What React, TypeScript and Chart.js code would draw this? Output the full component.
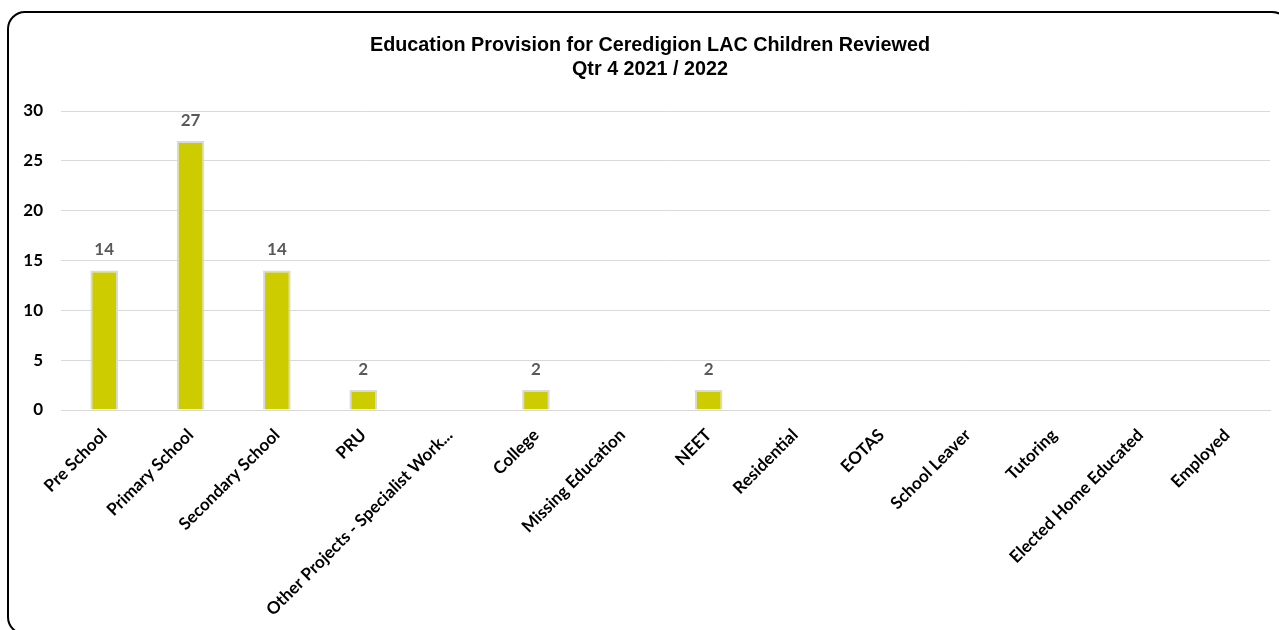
import React, { useEffect, useRef } from "react";
import { Chart, registerables } from "chart.js";

Chart.register(...registerables);

const titleLines: string[] = [
  "Education Provision for Ceredigion LAC Children Reviewed",
  "Qtr 4 2021 / 2022",
];

const categories: string[] = [
  "Pre School",
  "Primary School",
  "Secondary School",
  "PRU",
  "Other Projects - Specialist Work...",
  "College",
  "Missing Education",
  "NEET",
  "Residential",
  "EOTAS",
  "School Leaver",
  "Tutoring",
  "Elected Home Educated",
  "Employed",
];

const values: number[] = [14, 27, 14, 2, 0, 2, 0, 2, 0, 0, 0, 0, 0, 0];

const yMin = 0;
const yMax = 30;
const yStep = 5;

const titlePlugin = {
  id: "customTitle",
  afterDraw(chart: any) {
    const ctx = chart.ctx;
    ctx.save();
    ctx.fillStyle = "#000000";
    ctx.textAlign = "center";
    ctx.textBaseline = "alphabetic";
    ctx.font = 'bold 21px "Liberation Sans", Arial, sans-serif';
    const w = ctx.measureText(titleLines[0]).width;
    const sx = 560 / w;
    ctx.translate(650, 0);
    ctx.scale(sx, 1);
    ctx.fillText(titleLines[0], 0, 51);
    ctx.fillText(titleLines[1], 0, 75);
    ctx.restore();
  },
};

const valueLabelPlugin = {
  id: "valueLabels",
  afterDatasetsDraw(chart: any) {
    const ctx = chart.ctx;
    const meta = chart.getDatasetMeta(0);
    const data = chart.data.datasets[0].data as number[];
    ctx.save();
    ctx.fillStyle = "#595959";
    ctx.textAlign = "center";
    ctx.textBaseline = "alphabetic";
    ctx.font = 'bold 17px Lato, "Open Sans", sans-serif';
    meta.data.forEach((bar: any, i: number) => {
      const v = data[i];
      if (!v) return;
      ctx.fillText(String(v), bar.x, bar.y - 15);
    });
    ctx.restore();
  },
};

export default function App() {
  const canvasRef = useRef<HTMLCanvasElement | null>(null);

  useEffect(() => {
    if (!canvasRef.current) return;
    const chart = new Chart(canvasRef.current, {
      type: "bar",
      data: {
        labels: categories,
        datasets: [
          {
            data: values,
            backgroundColor: "#CCCC00",
            borderColor: "#D9D9D9",
            borderWidth: 2,
            barPercentage: 0.32,
            categoryPercentage: 1,
          },
        ],
      },
      options: {
        animation: false,
        responsive: true,
        maintainAspectRatio: false,
        layout: { padding: { top: 111, left: 8, right: 9, bottom: 0 } },
        plugins: {
          legend: { display: false },
          title: { display: false },
          tooltip: { enabled: false },
        },
        scales: {
          x: {
            grid: { display: false, drawTicks: false },
            border: { display: true, color: "#D9D9D9", width: 1 },
            ticks: {
              autoSkip: false,
              maxRotation: 45,
              minRotation: 45,
              padding: 15,
              color: "#000000",
              font: { family: 'Lato, "Open Sans", sans-serif', size: 17, weight: "bold" },
            },
            afterFit: (s: any) => {
              s.height = 220;
            },
          },
          y: {
            min: yMin,
            max: yMax,
            grid: { color: "#D9D9D9", lineWidth: 1, drawTicks: false },
            border: { display: false },
            ticks: {
              stepSize: yStep,
              padding: 18,
              color: "#000000",
              font: { family: 'Lato, "Open Sans", sans-serif', size: 17, weight: "bold" },
            },
            afterFit: (s: any) => {
              s.width = 53;
            },
          },
        },
      },
      plugins: [titlePlugin, valueLabelPlugin],
    });
    return () => chart.destroy();
  }, []);

  return (
    <div
      style={{
        position: "fixed",
        left: 0,
        top: 0,
        width: 1279,
        height: 630,
        overflow: "hidden",
        background: "#ffffff",
      }}
    >
      <div
        style={{
          position: "absolute",
          left: 7,
          top: 11,
          width: 1283,
          height: 624,
          border: "2px solid #000000",
          borderRadius: 18,
          boxSizing: "border-box",
        }}
      />
      <div style={{ position: "absolute", left: 0, top: 0, width: 1279, height: 630 }}>
        <canvas ref={canvasRef} />
      </div>
    </div>
  );
}
